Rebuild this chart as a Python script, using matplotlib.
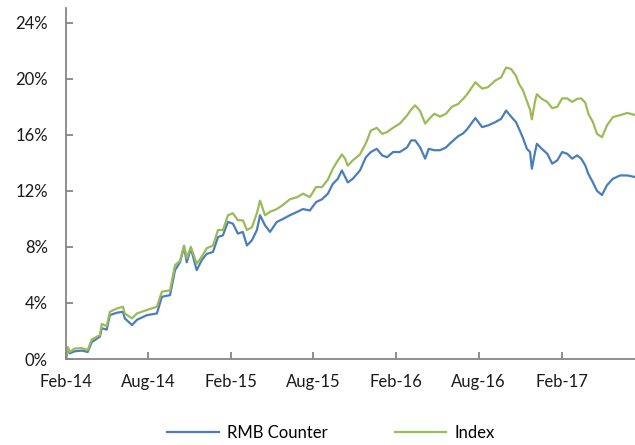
import pandas as pd
import matplotlib.pyplot as plt
import matplotlib.dates as mdates
from matplotlib.ticker import FuncFormatter

plt.rcParams['font.family'] = ['Lato', 'DejaVu Sans']

# values (cumulative return, %)
dates = [
    "2014-02-01", "2014-02-05", "2014-02-09", "2014-02-20", "2014-03-08", "2014-03-21",
    "2014-03-30", "2014-04-17", "2014-04-21", "2014-05-02", "2014-05-09", "2014-05-24",
    "2014-06-07", "2014-06-11", "2014-06-27", "2014-07-08", "2014-07-30", "2014-08-21",
    "2014-09-01", "2014-09-19", "2014-09-30", "2014-10-11", "2014-10-20", "2014-10-26",
    "2014-11-04", "2014-11-17", "2014-11-28", "2014-12-09", "2014-12-23", "2015-01-03",
    "2015-01-14", "2015-01-25", "2015-02-05", "2015-02-16", "2015-02-27", "2015-03-08",
    "2015-03-19", "2015-03-30", "2015-04-06", "2015-04-17", "2015-04-28", "2015-05-13",
    "2015-05-27", "2015-06-11", "2015-06-27", "2015-07-10", "2015-07-25", "2015-08-08",
    "2015-08-21", "2015-09-03", "2015-09-14", "2015-09-25", "2015-10-04", "2015-10-11",
    "2015-10-17", "2015-10-28", "2015-11-13", "2015-11-26", "2015-12-07", "2015-12-20",
    "2016-01-01", "2016-01-12", "2016-01-25", "2016-02-09", "2016-02-25", "2016-03-05",
    "2016-03-14", "2016-03-25", "2016-04-05", "2016-04-13", "2016-04-25", "2016-05-08",
    "2016-05-21", "2016-06-03", "2016-06-17", "2016-06-28", "2016-07-07", "2016-07-25",
    "2016-08-09", "2016-08-22", "2016-09-07", "2016-09-20", "2016-10-01", "2016-10-12",
    "2016-10-23", "2016-10-30", "2016-11-07", "2016-11-16", "2016-11-23", "2016-11-27",
    "2016-12-04", "2016-12-08", "2016-12-19", "2016-12-31", "2017-01-11", "2017-01-22",
    "2017-02-02", "2017-02-13", "2017-02-24", "2017-03-07", "2017-03-16", "2017-03-25",
    "2017-04-01", "2017-04-11", "2017-04-20", "2017-05-01", "2017-05-12", "2017-05-25",
    "2017-06-10", "2017-06-26", "2017-07-11",
]

rmb_counter = [
    0.0, 0.8, 0.4, 0.55, 0.6, 0.5,
    1.2, 1.6, 2.2, 2.1, 3.13, 3.3,
    3.37, 2.9, 2.42, 2.8, 3.13, 3.25,
    4.44, 4.56, 6.34, 6.9, 8.0, 6.9,
    7.9, 6.34, 7.05, 7.5, 7.64, 8.7,
    8.83, 9.78, 9.66, 8.95, 9.07, 8.1,
    8.47, 9.2, 10.26, 9.54, 9.07, 9.78,
    10.0, 10.26, 10.5, 10.7, 10.6, 11.2,
    11.4, 11.8, 12.5, 12.86, 13.46, 13.0,
    12.6, 12.86, 13.46, 14.4, 14.77, 15.0,
    14.53, 14.4, 14.77, 14.77, 15.1, 15.6,
    15.6, 15.1, 14.3, 15.0, 14.9, 14.9,
    15.1, 15.5, 15.9, 16.1, 16.4, 17.2,
    16.55, 16.67, 16.9, 17.14, 17.73, 17.3,
    16.9, 16.4, 15.8, 15.0, 14.77, 13.58,
    14.77, 15.36, 15.0, 14.65, 13.94, 14.17,
    14.77, 14.65, 14.3, 14.53, 14.3, 13.82,
    13.2, 12.6, 12.0, 11.7, 12.4, 12.86,
    13.1, 13.1, 13.0,
]

index = [
    0.0, 0.85, 0.5, 0.75, 0.78, 0.64,
    1.4, 1.7, 2.5, 2.35, 3.37, 3.6,
    3.73, 3.25, 2.9, 3.25, 3.5, 3.73,
    4.8, 4.9, 6.7, 7.0, 8.1, 7.2,
    8.0, 6.8, 7.3, 7.9, 8.1, 9.2,
    9.2, 10.26, 10.4, 9.9, 9.9, 9.2,
    9.4, 10.4, 11.3, 10.26, 10.5, 10.7,
    11.0, 11.4, 11.55, 11.8, 11.55, 12.27,
    12.27, 12.8, 13.58, 14.17, 14.6, 14.3,
    13.8, 14.17, 14.6, 15.4, 16.3, 16.5,
    16.07, 16.2, 16.5, 16.8, 17.38, 17.8,
    18.1, 17.7, 16.8, 17.1, 17.5, 17.3,
    17.5, 18.0, 18.2, 18.56, 18.9, 19.75,
    19.3, 19.4, 19.87, 20.1, 20.8, 20.7,
    20.2, 19.6, 19.2, 18.4, 17.8, 17.1,
    18.4, 18.9, 18.56, 18.35, 17.9, 18.0,
    18.6, 18.6, 18.35, 18.56, 18.6, 18.3,
    17.5, 16.9, 16.07, 15.83, 16.67, 17.26,
    17.4, 17.56, 17.43,
]

x_ticks = ["2014-02-01", "2014-08-01", "2015-02-01", "2015-08-01",
           "2016-02-01", "2016-08-01", "2017-02-01"]
y_ticks = [0, 4, 8, 12, 16, 20, 24]

x = pd.to_datetime(dates)

fig = plt.figure(figsize=(6.35, 4.45), dpi=100)
ax = fig.add_axes([66 / 635, 1 - 359 / 445, 1 - 66 / 635, (359 - 8) / 445])

ax.plot(x, rmb_counter, color="#4A7EBB", lw=1.6, label="RMB Counter")
ax.plot(x, index, color="#9BBB59", lw=1.6, label="Index")

ax.set_xlim(pd.Timestamp("2014-02-01"), pd.Timestamp("2017-07-13"))
ax.set_ylim(0, 25.05)
ax.set_xticks(pd.to_datetime(x_ticks))
ax.xaxis.set_major_formatter(mdates.DateFormatter("%b-%y"))
ax.set_yticks(y_ticks)
ax.yaxis.set_major_formatter(FuncFormatter(lambda v, _: f"{v:.0f}%"))

for side in ["top", "right"]:
    ax.spines[side].set_visible(False)
for side in ["left", "bottom"]:
    ax.spines[side].set_color("#868686")
    ax.spines[side].set_linewidth(1.3)
ax.tick_params(axis="both", direction="in", length=5, width=1.3, color="#868686",
               labelsize=12, labelcolor="#1a1a1a")
ax.tick_params(axis="y", pad=13)
ax.tick_params(axis="x", pad=11)

fig.legend(loc="center", bbox_to_anchor=(331 / 635, 1 - 433 / 445), ncol=2,
           frameon=False, fontsize=12, handlelength=3.1, columnspacing=4.0,
           handletextpad=0.5)

fig.savefig("out.png", dpi=100)
